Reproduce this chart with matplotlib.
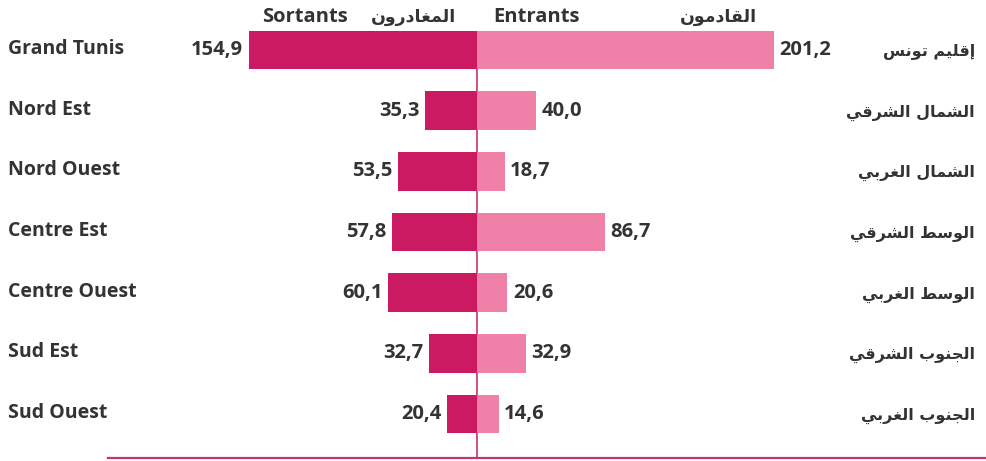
import matplotlib.pyplot as plt
import numpy as np

plt.switch_backend('agg')

regions_fr = ['Grand Tunis', 'Nord Est', 'Nord Ouest', 'Centre Est',
              'Centre Ouest', 'Sud Est', 'Sud Ouest']
regions_ar = ['إقليم تونس', 'الشمال الشرقي', 'الشمال الغربي', 'الوسط الشرقي',
              'الوسط الغربي', 'الجنوب الشرقي', 'الجنوب الغربي']
sortants = [154.9, 35.3, 53.5, 57.8, 60.1, 32.7, 20.4]
entrants = [201.2, 40.0, 18.7, 86.7, 20.6, 32.9, 14.6]

DARK = '#cb1a62'
LIGHT = '#ef80a7'
LINE = '#c4346f'
TXT = '#333333'

# simple arabic shaping (presentation forms) since matplotlib has no shaper
FORMS = {
    'ا': ('\ufe8d', '\ufe8e', None, None),
    'إ': ('\ufe87', '\ufe88', None, None),
    'د': ('\ufea9', '\ufeaa', None, None),
    'ر': ('\ufead', '\ufeae', None, None),
    'و': ('\ufeed', '\ufeee', None, None),
    'ب': ('\ufe8f', '\ufe90', '\ufe91', '\ufe92'),
    'ت': ('\ufe95', '\ufe96', '\ufe97', '\ufe98'),
    'ج': ('\ufe9d', '\ufe9e', '\ufe9f', '\ufea0'),
    'س': ('\ufeb1', '\ufeb2', '\ufeb3', '\ufeb4'),
    'ش': ('\ufeb5', '\ufeb6', '\ufeb7', '\ufeb8'),
    'ط': ('\ufec1', '\ufec2', '\ufec3', '\ufec4'),
    'غ': ('\ufecd', '\ufece', '\ufecf', '\ufed0'),
    'ف': ('\ufed1', '\ufed2', '\ufed3', '\ufed4'),
    'ق': ('\ufed5', '\ufed6', '\ufed7', '\ufed8'),
    'ل': ('\ufedd', '\ufede', '\ufedf', '\ufee0'),
    'م': ('\ufee1', '\ufee2', '\ufee3', '\ufee4'),
    'ن': ('\ufee5', '\ufee6', '\ufee7', '\ufee8'),
    'ي': ('\ufef1', '\ufef2', '\ufef3', '\ufef4'),
}


def shape(s):
    out = []
    for i, c in enumerate(s):
        if c not in FORMS:
            out.append(c)
            continue
        prev = s[i - 1] if i > 0 else ' '
        nxt = s[i + 1] if i < len(s) - 1 else ' '
        jp = prev in FORMS and FORMS[prev][2] is not None
        jn = FORMS[c][2] is not None and nxt in FORMS
        iso, fin, ini, med = FORMS[c]
        if jp and jn:
            out.append(med)
        elif jp:
            out.append(fin)
        elif jn:
            out.append(ini)
        else:
            out.append(iso)
    return ''.join(out[::-1])


def fmt(v):
    return ('%.1f' % v).replace('.', ',')


W, H = 987, 461
fig = plt.figure(figsize=(W / 100, H / 100), dpi=100)
ax = fig.add_axes([0, 0, 1, 1])
cx, sx = 477, 1.475
y0, dy = 50, 60.67
ax.set_xlim(-cx / sx, (W - cx) / sx)
ax.set_ylim((H - y0) / dy, -y0 / dy)
ax.axis('off')

y = np.arange(len(regions_fr))
ax.barh(y, [-v for v in sortants], height=0.64, color=DARK, zorder=2)
ax.barh(y, entrants, height=0.64, color=LIGHT, zorder=2)

# center and bottom lines
ybot = (458 - y0) / dy
ax.plot([0, 0], [0.32, ybot], color=LINE, lw=1.2, zorder=1)
ax.plot([(108 - cx) / sx, (W - cx) / sx], [ybot, ybot], color=LINE, lw=1.6)

for i in range(len(y)):
    ax.annotate(fmt(sortants[i]), (-sortants[i], y[i]), xytext=(-4, 0),
                textcoords='offset points', ha='right', va='center',
                fontsize=14.5, fontweight='bold', color=TXT, family='Open Sans')
    ax.annotate(fmt(entrants[i]), (entrants[i], y[i]), xytext=(4, 0),
                textcoords='offset points', ha='left', va='center',
                fontsize=14.5, fontweight='bold', color=TXT, family='Open Sans')
    fig.text(8 / W, 1 - (y0 + dy * i - 1) / H, regions_fr[i], ha='left',
             va='center', fontsize=14, fontweight='bold', color=TXT,
             family='Open Sans')
    fig.text(975 / W, 1 - (y0 + dy * i + 2) / H, shape(regions_ar[i]),
             ha='right', va='center', fontsize=11.5, fontweight='bold',
             color=TXT, family='DejaVu Sans')

# headers
hy = 1 - 17 / H
fig.text(262 / W, hy, 'Sortants', ha='left', va='center', fontsize=14.5,
         fontweight='bold', color=TXT, family='Open Sans')
fig.text(456 / W, hy, shape('المغادرون'), ha='right', va='center',
         fontsize=12.5, fontweight='bold', color=TXT, family='DejaVu Sans')
fig.text(493 / W, hy, 'Entrants', ha='left', va='center', fontsize=14.5,
         fontweight='bold', color=TXT, family='Open Sans')
fig.text(757 / W, hy, shape('القادمون'), ha='right', va='center',
         fontsize=12.5, fontweight='bold', color=TXT, family='DejaVu Sans')

fig.savefig('out.png', dpi=100)
plt.close('all')
